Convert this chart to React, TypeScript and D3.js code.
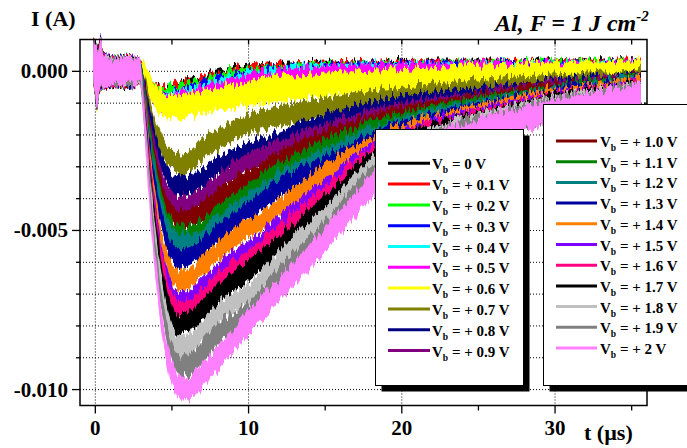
import React from 'react';
import * as d3 from 'd3';

// Bias voltage labels and colours (legend order = drawing order)
const VOLTS = ['0', '+ 0.1', '+ 0.2', '+ 0.3', '+ 0.4', '+ 0.5', '+ 0.6', '+ 0.7', '+ 0.8', '+ 0.9',
  '+ 1.0', '+ 1.1', '+ 1.2', '+ 1.3', '+ 1.4', '+ 1.5', '+ 1.6', '+ 1.7', '+ 1.8', '+ 1.9', '+ 2'];
const COLORS = ['#000000', '#ff0000', '#00ff00', '#0000ff', '#00ffff', '#ff00ff', '#ffff00', '#808000',
  '#000080', '#800080', '#800000', '#008000', '#008080', '#0000a0', '#ff8000', '#8000ff', '#ff0080',
  '#000000', '#c0c0c0', '#808080', '#ff80ff'];

// Pre-trigger part (shared by all traces): time (µs), upper / lower envelope (mA)
const PRE_T = [-0.15, -0.1, 0.0, 0.08, 0.2, 0.35, 0.5, 0.8, 1.2, 1.7, 2.2, 2.6];
const PRE_HI = [0.2, 0.95, 0.95, 0.8, 0.7, 1.05, 0.55, 0.45, 0.4, 0.4, 0.45, 0.4];
const PRE_LO = [-0.2, -0.45, -0.7, -1.15, -0.8, -0.5, -0.45, -0.45, -0.4, -0.45, -0.42, -0.4];

// Main transient: time (µs) and centre of each noisy trace (mA)
const T = [2.9, 3.2, 3.6, 4.0, 4.5, 5.0, 5.5, 6.0, 7, 8, 10, 12, 15, 18, 21, 24, 27, 30, 33, 35.6];
const S00 = [0.05, -0.12, -0.42, -0.6, -0.67, -0.6, -0.53, -0.48, -0.38, -0.22, -0.02, 0.06, 0.1, 0.12, 0.13, 0.14, 0.14, 0.15, 0.15, 0.15];
const S01 = [0.04, -0.14, -0.45, -0.63, -0.7, -0.63, -0.56, -0.51, -0.41, -0.25, -0.05, 0.04, 0.08, 0.1, 0.12, 0.13, 0.13, 0.14, 0.14, 0.14];
const S02 = [0.03, -0.16, -0.48, -0.66, -0.73, -0.67, -0.6, -0.55, -0.45, -0.29, -0.09, 0.01, 0.06, 0.08, 0.1, 0.11, 0.12, 0.13, 0.13, 0.13];
const S03 = [0.02, -0.18, -0.54, -0.74, -0.82, -0.77, -0.7, -0.64, -0.54, -0.38, -0.17, -0.05, 0.02, 0.05, 0.07, 0.08, 0.09, 0.1, 0.1, 0.11];
const S04 = [0.01, -0.2, -0.6, -0.81, -0.9, -0.85, -0.78, -0.72, -0.61, -0.45, -0.23, -0.1, -0.02, 0.02, 0.04, 0.05, 0.06, 0.07, 0.08, 0.09];
const S05 = [0.0, -0.22, -0.64, -0.88, -1.0, -0.98, -0.92, -0.86, -0.74, -0.58, -0.36, -0.22, -0.1, -0.04, 0.0, 0.02, 0.03, 0.04, 0.05, 0.06];
const S06 = [0.0, -0.12, -0.47, -0.85, -1.08, -1.12, -1.1, -1.06, -0.97, -0.87, -0.7, -0.56, -0.42, -0.36, -0.28, -0.2, -0.14, -0.1, -0.06, -0.03];
const S07 = [0.0, -0.45, -1.25, -1.9, -2.5, -2.8, -2.9, -2.88, -2.42, -2.15, -1.66, -1.4, -1.15, -0.92, -0.76, -0.62, -0.5, -0.42, -0.33, -0.25];
const S08 = [0.0, -0.55, -1.55, -2.4, -3.1, -3.5, -3.63, -3.6, -3.33, -3.0, -2.53, -2.2, -1.61, -1.25, -1.0, -0.85, -0.68, -0.55, -0.43, -0.33];
const S09 = [0.0, -0.65, -1.8, -2.75, -3.6, -4.05, -4.23, -4.2, -3.9, -3.5, -2.87, -2.45, -1.93, -1.5, -1.2, -1.0, -0.78, -0.6, -0.47, -0.37];
const S10 = [0.0, -0.72, -2.0, -3.05, -4.0, -4.5, -4.68, -4.65, -4.38, -4.0, -3.37, -2.8, -2.13, -1.65, -1.3, -1.08, -0.85, -0.65, -0.5, -0.4];
const S11 = [0.0, -0.8, -2.2, -3.35, -4.4, -4.95, -5.13, -5.1, -4.91, -4.5, -3.83, -3.2, -2.43, -1.85, -1.45, -1.18, -0.95, -0.74, -0.54, -0.42];
const S12 = [0.0, -0.85, -2.35, -3.55, -4.65, -5.25, -5.43, -5.42, -5.2, -4.8, -4.13, -3.45, -2.7, -2.05, -1.6, -1.28, -1.02, -0.8, -0.58, -0.45];
const S13 = [0.0, -0.92, -2.55, -3.85, -5.05, -5.7, -5.88, -5.85, -5.53, -5.1, -4.38, -3.7, -2.96, -2.25, -1.72, -1.37, -1.08, -0.84, -0.62, -0.48];
const S14 = [0.0, -1.0, -2.85, -4.3, -5.65, -6.35, -6.58, -6.55, -6.08, -5.65, -4.95, -4.3, -3.2, -2.35, -1.8, -1.45, -1.12, -0.85, -0.65, -0.5];
const S15 = [0.0, -1.1, -3.1, -4.7, -6.2, -6.95, -7.23, -7.2, -6.8, -6.3, -5.63, -4.83, -3.63, -2.55, -1.95, -1.55, -1.25, -0.95, -0.75, -0.58];
const S16 = [0.0, -1.15, -3.25, -4.9, -6.45, -7.25, -7.53, -7.5, -7.13, -6.6, -5.93, -5.13, -3.88, -2.7, -2.05, -1.62, -1.3, -0.98, -0.78, -0.61];
const S17 = [0.0, -1.25, -3.45, -5.15, -6.8, -7.65, -7.95, -7.9, -7.5, -7.0, -6.25, -5.45, -4.2, -2.85, -2.15, -1.7, -1.38, -1.02, -0.82, -0.64];
const S18 = [0.0, -1.35, -3.75, -5.6, -7.3, -8.25, -8.68, -8.65, -8.18, -7.65, -6.98, -5.98, -4.63, -3.05, -2.3, -1.8, -1.45, -1.1, -0.88, -0.68];
const S19 = [0.0, -1.45, -4.0, -6.0, -7.8, -8.85, -9.28, -9.25, -8.83, -8.25, -7.58, -6.48, -5.03, -3.35, -2.45, -1.88, -1.52, -1.15, -0.92, -0.72];
const S20 = [0.0, -1.6, -4.4, -6.5, -8.4, -9.45, -9.9, -9.95, -9.55, -9.0, -7.9, -6.85, -5.3, -3.65, -2.6, -2.0, -1.6, -1.25, -0.98, -0.77];
const SERIES = [S00, S01, S02, S03, S04, S05, S06, S07, S08, S09, S10, S11, S12, S13, S14, S15, S16, S17, S18, S19, S20];
// Half-width of each trace's noise band (mA)
const NOISE = [0.2, 0.2, 0.2, 0.2, 0.2, 0.26, 0.38, 0.32, 0.3, 0.3, 0.3, 0.3, 0.3, 0.3, 0.3, 0.3, 0.3, 0.32, 0.35, 0.35, 0.37];

const X_MAJOR = [0, 10, 20, 30];
const X_MINOR = [5, 15, 25, 35];
const Y_MAJOR = [0, -0.005, -0.01];
const Y_GRID_MA = [-10, -9, -8, -7, -6, -5, -4, -3, -2, -1, 0];

const SERIF = '"Liberation Serif", "Times New Roman", Times, serif';

type Pt = [number, number, number];

export default function App() {
  const W = 687, H = 448;
  const left = 80, right = 647, top = 39.5, bottom = 405.5;
  const x = d3.scaleLinear().domain([-1, 36]).range([left, right]);
  const y = d3.scaleLinear().domain([-0.0105, 0.001]).range([bottom, top]);
  const mA = 1e-3;

  const area = d3.area<Pt>()
    .x(d => x(d[0]))
    .y0(d => y(d[2] * mA))
    .y1(d => y(d[1] * mA))
    .curve(d3.curveMonotoneX);

  const bands = SERIES.map((s, k) => {
    const pts: Pt[] = PRE_T.map((t, i) => [t, PRE_HI[i], PRE_LO[i]] as Pt);
    T.forEach((t, i) => pts.push([t, s[i] + NOISE[k], s[i] - NOISE[k]]));
    return area(pts) || '';
  });

  const grid = { stroke: '#000', strokeWidth: 1, strokeDasharray: '1,2' };

  const legends = [
    { x: 375.5, y: 129.5, w: 148, h: 256, row0: 163.3, step: 20.8, lx0: 388, lx1: 430, tx: 432, from: 0, to: 10 },
    { x: 543.5, y: 104.5, w: 160, h: 281, row0: 141, step: 20.7, lx0: 556, lx1: 597, tx: 600, from: 10, to: 21 },
  ];

  return (
    <svg width={W} height={H} style={{ position: 'absolute', left: 0, top: 0, background: '#fff', fontFamily: SERIF }}>
      <defs>
        {/* rendering texture: jagged edges like the digitised oscilloscope noise */}
        {SERIES.map((_, k) => (
          <filter key={'f' + k} id={'jag' + k} x="-2%" y="-8%" width="104%" height="116%"
            colorInterpolationFilters="sRGB">
            <feTurbulence type="fractalNoise" baseFrequency="0.35 0.02" numOctaves={2} seed={k * 7 + 3} result="t" />
            <feColorMatrix in="t" type="matrix"
              values="0 0 0 0 0.5  0 1 0 0 0  0 0 0 0 0  0 0 0 0 1" result="m" />
            <feDisplacementMap in="SourceGraphic" in2="m" scale={18} xChannelSelector="R" yChannelSelector="G" />
          </filter>
        ))}
      </defs>
      <rect x={0} y={0} width={W} height={H} fill="#fff" />
      {/* grid */}
      {Y_GRID_MA.map(v => (
        <line key={'gy' + v} x1={left} x2={right} y1={y(v * mA)} y2={y(v * mA)} {...grid} />
      ))}
      {X_MAJOR.map(v => (
        <line key={'gx' + v} x1={x(v)} x2={x(v)} y1={top} y2={bottom} {...grid} />
      ))}
      {/* traces */}
      {bands.map((d, k) => (
        <path key={'b' + k} d={d} fill={COLORS[k]} stroke="none" filter={`url(#jag${k})`} />
      ))}
      {/* frame */}
      <rect x={left} y={top} width={right - left} height={bottom - top} fill="none" stroke="#000" strokeWidth={1.5} />
      {/* y ticks */}
      {Y_GRID_MA.map(v => {
        const major = Y_MAJOR.some(m => Math.abs(m - v * mA) < 1e-9);
        const yy = y(v * mA);
        return (
          <g key={'ty' + v}>
            <line x1={left - (major ? 8 : 4)} x2={left} y1={yy} y2={yy} stroke="#000" strokeWidth={1.3} />
            <line x1={right - (major ? 6 : 3)} x2={right} y1={yy} y2={yy} stroke="#000" strokeWidth={1.3} />
          </g>
        );
      })}
      {Y_MAJOR.map(v => (
        <text key={'ly' + v} x={68} y={y(v) + 7} textAnchor="end" fontSize={21} fontWeight="bold">
          {v.toFixed(3)}
        </text>
      ))}
      {/* x ticks */}
      {X_MAJOR.concat(X_MINOR).map(v => {
        const major = X_MAJOR.includes(v);
        const xx = x(v);
        return (
          <g key={'tx' + v}>
            <line x1={xx} x2={xx} y1={bottom} y2={bottom + (major ? 8 : 5)} stroke="#000" strokeWidth={1.3} />
            <line x1={xx} x2={xx} y1={top} y2={top + 5} stroke="#000" strokeWidth={1.3} />
          </g>
        );
      })}
      {X_MAJOR.map(v => (
        <text key={'lx' + v} x={x(v)} y={435} textAnchor="middle" fontSize={21} fontWeight="bold">{v}</text>
      ))}
      {/* axis titles */}
      <text x={31} y={26} fontSize={22} fontWeight="bold">I (A)</text>
      <text x={584} y={440} fontSize={22} fontWeight="bold">t (µs)</text>
      <text x={495} y={31} fontSize={24} fontWeight="bold" fontStyle="italic">
        Al, F = 1 J cm<tspan dy={-10} fontSize={15}>-2</tspan>
      </text>
      {/* legends */}
      {legends.map((L, li) => (
        <g key={'leg' + li}>
          <rect x={L.x + 6} y={L.y + 6} width={L.w} height={L.h} fill="#000" />
          <rect x={L.x} y={L.y} width={L.w} height={L.h} fill="#fff" stroke="#000" strokeWidth={1} />
          {VOLTS.slice(L.from, L.to).map((v, i) => {
            const k = L.from + i;
            const yy = L.row0 + i * L.step;
            return (
              <g key={'e' + k}>
                <line x1={L.lx0} x2={L.lx1} y1={yy} y2={yy} stroke={COLORS[k]} strokeWidth={3} />
                <text x={L.tx} y={yy + 6} fontSize={15} fontWeight="bold">
                  V<tspan dy={4} fontSize={9.5}>b</tspan><tspan dy={-4}>{' = ' + v + ' V'}</tspan>
                </text>
              </g>
            );
          })}
        </g>
      ))}
    </svg>
  );
}
